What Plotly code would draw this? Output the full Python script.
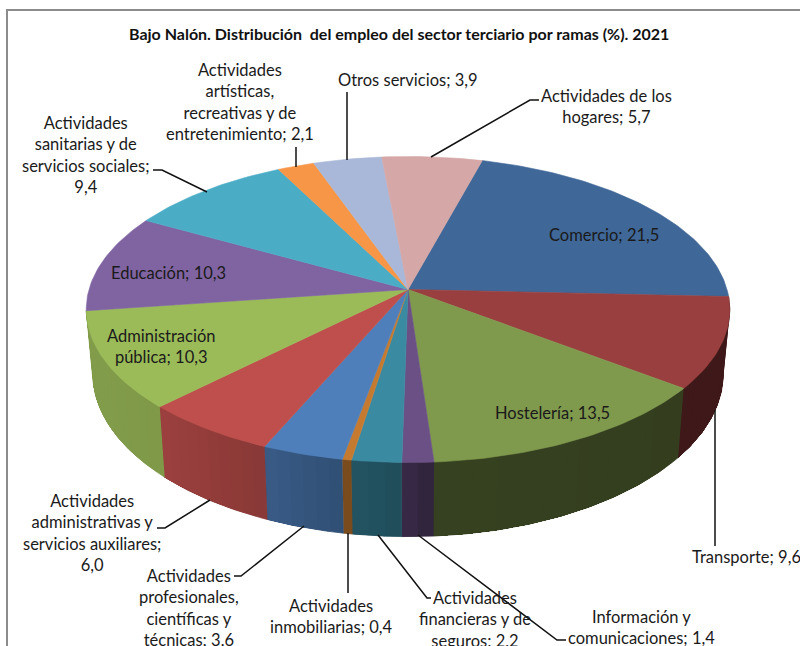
import numpy as np
import plotly.graph_objects as go

title = "Bajo Nalón. Distribución  del empleo del sector terciario por ramas (%). 2021"
categories = ["Comercio", "Transporte", "Hostelería", "Información y comunicaciones",
              "Actividades financieras y de seguros", "Actividades inmobiliarias",
              "Actividades profesionales, científicas y técnicas",
              "Actividades administrativas y servicios auxiliares",
              "Administración pública", "Educación",
              "Actividades sanitarias y de servicios sociales",
              "Actividades artísticas, recreativas y de entretenimiento",
              "Otros servicios", "Actividades de los hogares"]
values = [21.5, 9.6, 13.5, 1.4, 2.2, 0.4, 3.6, 6.0, 10.3, 10.3, 9.4, 2.1, 3.9, 5.7]
colors = ["#3F6797", "#9A3F3F", "#7F994D", "#6A5085", "#3A8BA2", "#C67A30", "#4F7FBB",
          "#BE4F4C", "#9BBB59", "#8064A2", "#4BACC6", "#F79646", "#A9B8D8", "#D5A7A7"]
label_lines = [["Comercio; 21,5"], ["Transporte; 9,6"], ["Hostelería; 13,5"],
               ["Información y", "comunicaciones; 1,4"],
               ["Actividades", "financieras y de", "seguros; 2,2"],
               ["Actividades", "inmobiliarias; 0,4"],
               ["Actividades", "profesionales,", "científicas y", "técnicas; 3,6"],
               ["Actividades", "administrativas y", "servicios auxiliares;", "6,0"],
               ["Administración", "pública; 10,3"], ["Educación; 10,3"],
               ["Actividades", "sanitarias y de", "servicios sociales;", "9,4"],
               ["Actividades", "artísticas,", "recreativas y de", "entretenimiento; 2,1"],
               ["Otros servicios; 3,9"], ["Actividades de los", "hogares; 5,7"]]
# label anchor (pixels of the page): centre x, centre y of the block
label_pos = [(604, 235), (746, 557), (552, 413), (641, 627), (475, 619), (331, 616),
             (189, 608), (92, 533), (161, 346), (168, 273), (86, 155), (240, 102),
             (408, 80), (606, 106)]
leaders = [None,
           [(715, 410), (715, 546)], None,
           [(418, 535), (557, 640), (566, 640)],
           [(378, 535), (427, 598), (431, 598)],
           [(348, 533), (348, 593)],
           [(304, 526), (241, 576), (234, 576)],
           [(210, 500), (165, 528), (157, 528)], None, None,
           [(207, 192), (162, 170), (153, 170)],
           [(296, 167), (296, 147)],
           [(347, 160), (347, 92)],
           [(431, 157), (530, 100), (539, 100)]]

START_DEG = 15.2
CX, CY, A, B, K = 408.0, 289.5, 319.0, 150.4, 0.1307
WALL_X, WALL_Y, WALL_DY = 0.98, 1.067, 62.5
shade_x = [86, 160, 265, 345, 400, 436, 680, 730]
shade_f = [.84, .82, .72, .62, .56, .43, .41, .41]


def top(theta):
    X, Y = np.sin(theta), np.cos(theta)
    s = 1 / (1 + K * Y)
    return CX + A * X * s, CY - B * Y * s


def bottom(theta):
    x, y = top(theta)
    return CX + (x - CX) * WALL_X, CY + (y - CY) * WALL_Y + WALL_DY


def shade(color, f):
    r, g, b = int(color[1:3], 16), int(color[3:5], 16), int(color[5:7], 16)
    return f"rgb({int(r * f)},{int(g * f)},{int(b * f)})"


total = sum(values)
edges = np.radians(START_DEG + np.concatenate([[0], np.cumsum(values)]) / total * 360)
fig = go.Figure()


def poly(xs, ys, color, lw=0.0):
    fig.add_trace(go.Scatter(x=list(xs), y=list(ys), mode="lines", fill="toself", fillcolor=color,
                             line=dict(color=color, width=lw), hoverinfo="skip", showlegend=False))


# side walls: each strip reaches to the end of its slice and the next strip paints over it,
# which keeps the shading free of seams. Only the slices between the rightmost and the
# leftmost point of the rim show a wall.
wall_lo, wall_hi = edges[1], edges[9]
for i, col in enumerate(colors):
    a0, a1 = max(edges[i], wall_lo), min(edges[i + 1], wall_hi)
    if a1 <= a0:
        continue
    n = max(1, int(np.degrees(a1 - a0) / 2.0))
    grid = np.linspace(a0, a1, n + 1)
    for j in range(n):
        t = np.linspace(grid[j], a1, 3 * (n - j) + 1)
        tx, ty = top(t)
        bx, by = bottom(t)
        px = top(np.array([grid[j], grid[j + 1]]))[0].mean()
        f = np.interp(px, shade_x, shade_f)
        poly(np.r_[tx, bx[::-1]], np.r_[ty, by[::-1]], shade(col, f), 0.8 if j == 0 else 0.0)

# top faces
for i, col in enumerate(colors):
    t = np.linspace(edges[i], edges[i + 1], max(4, int(np.degrees(edges[i + 1] - edges[i]))))
    tx, ty = top(t)
    poly(np.r_[CX, tx, CX], np.r_[CY, ty, CY], col, 0.6)

# frame
fig.add_trace(go.Scatter(x=[7, 7, 800], y=[646, 10, 10], mode="lines", line=dict(color="#8C8C8C", width=2),
                         hoverinfo="skip", showlegend=False))
# leader lines
for path in leaders:
    if path:
        fig.add_trace(go.Scatter(x=[p[0] for p in path], y=[p[1] for p in path], mode="lines",
                                 line=dict(color="#111111", width=1.5), hoverinfo="skip", showlegend=False))

annotations = [dict(x=399, y=33, text=f"<b>{title}</b>", showarrow=False, xref="x", yref="y",
                    font=dict(family="Lato", size=16, color="#111111"))]
for lines, (x, y) in zip(label_lines, label_pos):
    annotations.append(dict(x=x, y=y, text="<br>".join(lines), showarrow=False, xref="x", yref="y",
                            align="center", font=dict(family="Lato", size=16.5, color="#1A1A1A")))

fig.update_layout(width=800, height=646, margin=dict(l=0, r=0, t=0, b=0), paper_bgcolor="white",
                  plot_bgcolor="white", showlegend=False, annotations=annotations,
                  xaxis=dict(range=[0, 800], visible=False, fixedrange=True),
                  yaxis=dict(range=[646, 0], visible=False, fixedrange=True))
fig.write_html("out.html", config={"displayModeBar": False},
               post_script="document.body.style.margin='0';document.body.style.overflow='hidden';")
